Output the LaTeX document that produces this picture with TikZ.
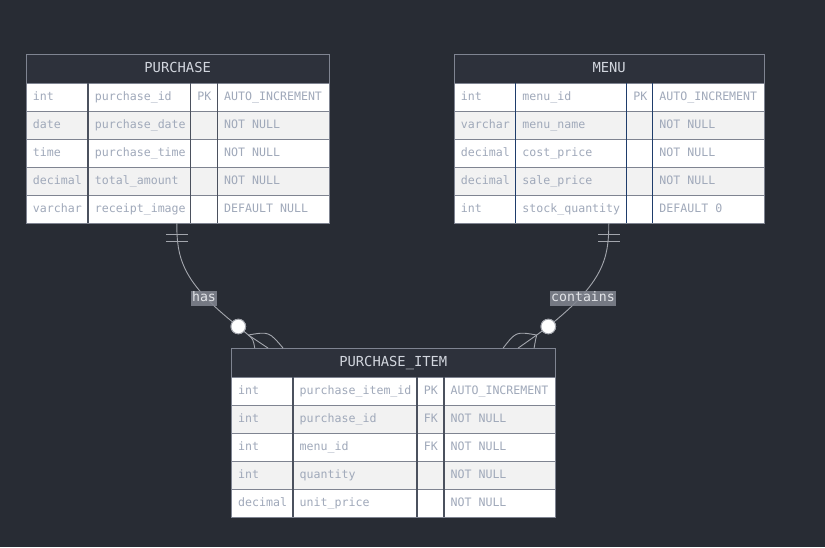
\documentclass[tikz,border=0pt]{standalone}
\usepackage{fontspec}
\setmonofont{DejaVu Sans Mono}
\usetikzlibrary{calc,fit}
\definecolor{bg}{HTML}{282C34}
\definecolor{hdr}{HTML}{2D313B}
\definecolor{brd}{HTML}{7F8491}
\definecolor{vsepc}{HTML}{4B515E}
\definecolor{navy}{HTML}{1F3D6B}
\definecolor{rowalt}{HTML}{F2F2F2}
\definecolor{celltxt}{HTML}{A0A9BA}
\definecolor{hdrtxt}{HTML}{D2D6DE}
\definecolor{conn}{HTML}{A3A6AD}
\definecolor{lblfill}{HTML}{80848F}
\definecolor{lbltxt}{HTML}{E2E4E8}
\tikzset{
  cell/.style={anchor=west, inner sep=0pt, text height=9pt, text depth=2pt,
    font=\ttfamily\fontsize{11.6}{12}\selectfont, text=celltxt},
  tabtitle/.style={anchor=base, inner sep=0pt,
    font=\ttfamily\fontsize{13.8}{14}\selectfont, text=hdrtxt},
  vsepline/.style={draw=vsepc, line width=1.6pt},
  hsepline/.style={draw=brd, line width=1pt},
  outline/.style={draw=brd, line width=1pt},
  rel/.style={draw=conn, line width=0.9pt},
  card/.style={circle, draw=conn, line width=0.9pt, fill=white, minimum size=14.6pt, inner sep=0pt},
  lbl/.style={fill=lblfill, fill opacity=0.88, text opacity=1, text=lbltxt,
    inner xsep=1pt, inner ysep=1.5pt, text height=9.5pt, text depth=2.5pt,
    font=\ttfamily\fontsize{13.2}{14}\selectfont},
}
% #1 name, #2..#6 column boundaries, #7 top, #8 title, #9 rows
\newcommand\ertable[9]{%
  \pgfmathsetmacro\tbot{#7+29+5*28}%
  \pgfmathsetmacro\thb{#7+29}%
  \fill[hdr] (#2,#7) rectangle (#6,\thb);
  \node[tabtitle] at ({(#2+#6)/2},{#7+18.2}) {#8};
  \foreach \ta/\tb/\tc/\td [count=\i] in {#9} {
    \pgfmathsetmacro\ya{#7+29+(\i-1)*28}
    \pgfmathsetmacro\yb{\ya+28}
    \pgfmathsetmacro\ym{\ya+14}
    \ifodd\i\def\rowfill{white}\else\def\rowfill{rowalt}\fi
    \fill[\rowfill] (#2,\ya) rectangle (#6,\yb);
    \draw[hsepline] (#2,\ya) -- (#6,\ya);
    \node[cell] at (#2+6.7,\ym) {\ta};
    \node[cell] at (#3+6.7,\ym) {\tb};
    \node[cell] at (#4+6.7,\ym) {\tc};
    \node[cell] at (#5+6.7,\ym) {\td};
  }
  \draw[vsepline] (#3,\thb) -- (#3,\tbot) (#4,\thb) -- (#4,\tbot) (#5,\thb) -- (#5,\tbot);
  \draw[outline] (#2,#7) rectangle (#6,\tbot);
  \node[fit={(#2,#7) (#6,\tbot)}, inner sep=0pt] (#1) {};
}
\begin{document}
\begin{tikzpicture}[x=1pt,y=-1pt]
\fill[bg] (0,0) rectangle (825,547);
\useasboundingbox (0,0) rectangle (825,547);

\ertable{purchase}{26}{88}{190.5}{217.3}{329.3}{54}{PURCHASE}{%
  int/purchase\_id/PK/AUTO\_INCREMENT,
  date/purchase\_date//NOT NULL,
  time/purchase\_time//NOT NULL,
  decimal/total\_amount//NOT NULL,
  varchar/receipt\_image//DEFAULT NULL}

\begin{scope}[vsepline/.style={draw=navy, line width=1.6pt}]
\ertable{menu}{454}{515.5}{626.5}{652.5}{764.3}{54}{MENU}{%
  int/menu\_id/PK/AUTO\_INCREMENT,
  varchar/menu\_name//NOT NULL,
  decimal/cost\_price//NOT NULL,
  decimal/sale\_price//NOT NULL,
  int/stock\_quantity//DEFAULT 0}
\end{scope}

\ertable{item}{231.3}{292.8}{417}{443.7}{555.3}{348.3}{PURCHASE\_ITEM}{%
  int/purchase\_item\_id/PK/AUTO\_INCREMENT,
  int/purchase\_id/FK/NOT NULL,
  int/menu\_id/FK/NOT NULL,
  int/quantity//NOT NULL,
  decimal/unit\_price//NOT NULL}

% anchor coordinates
\coordinate (hasTop) at ($(purchase.south west)+(151,0)$);
\coordinate (conTop) at ($(menu.south west)+(155,0)$);
\coordinate (j1) at (248.3,335);
\coordinate (j2) at (536.7,335);

\node[card] (c1) at (238.3,326.5) {};
\node[card] (c2) at (548.3,326.5) {};

% relationship lines
\draw[rel] (hasTop) .. controls ($(hasTop)+(0,35)$) and ($(hasTop)+(5,59)$) .. (c1.center);
\draw[rel] (conTop) .. controls ($(conTop)+(0,35)$) and ($(conTop)+(-5,59)$) .. (c2.center);
\draw[rel] (c1.center) -- (j1);
\draw[rel] (c2.center) -- (j2);

% one-and-only-one bars
\draw[rel] ($(hasTop)+(-11,11)$) -- ($(hasTop)+(11,11)$);
\draw[rel] ($(hasTop)+(-11,18)$) -- ($(hasTop)+(11,18)$);
\draw[rel] ($(conTop)+(-11,11)$) -- ($(conTop)+(11,11)$);
\draw[rel] ($(conTop)+(-11,18)$) -- ($(conTop)+(11,18)$);

% crow's feet on PURCHASE_ITEM
\coordinate (f1a) at ($(item.north west)+(23.7,0)$);
\coordinate (f1b) at ($(item.north west)+(37,0)$);
\coordinate (f1c) at ($(item.north west)+(52,0)$);
\coordinate (f2a) at ($(item.north west)+(272,0)$);
\coordinate (f2b) at ($(item.north west)+(287,0)$);
\coordinate (f2c) at ($(item.north west)+(303,0)$);
\draw[rel] (j1) .. controls (253,339) .. (f1a);
\draw[rel] (j1) -- (f1b);
\draw[rel] (j1) .. controls (269,331.5) .. (f1c);
\draw[rel] (j2) .. controls (535.5,340) .. (f2c);
\draw[rel] (j2) -- (f2b);
\draw[rel] (j2) .. controls (516,331.5) .. (f2a);

\node[card] at (c1) {};
\node[card] at (c2) {};

% labels
\node[lbl] (lhas) at (204,298) {has};
\node[lbl] (lcon) at (583,298) {contains};
\end{tikzpicture}
\end{document}
